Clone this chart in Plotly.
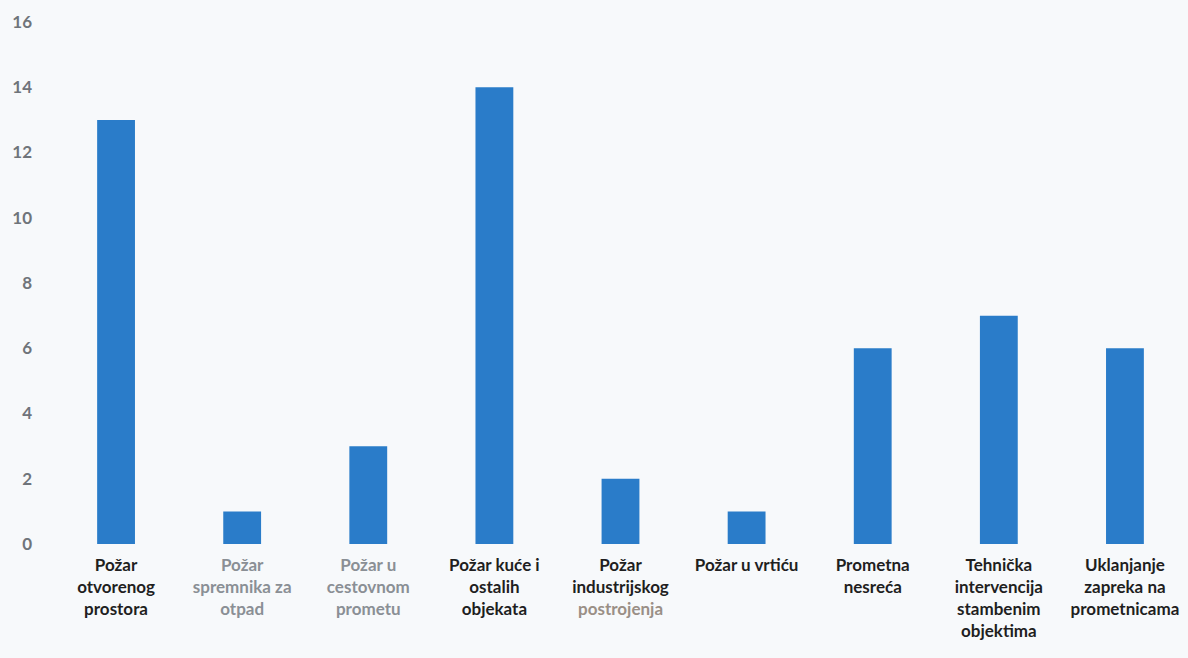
import plotly.graph_objects as go

categories = [
    "Požar<br>otvorenog<br>prostora",
    "<span style='color:#8a8f95'>Požar<br>spremnika za<br>otpad</span>",
    "<span style='color:#8a8f95'>Požar u<br>cestovnom<br>prometu</span>",
    "Požar kuće i<br>ostalih<br>objekata",
    "Požar<br>industrijskog<br><span style='color:#9a8f86'>postrojenja</span>",
    "Požar u vrtiću",
    "Prometna<br>nesreća",
    "Tehnička<br>intervencija<br>stambenim<br>objektima",
    "Uklanjanje<br>zapreka na<br>prometnicama",
]
values = [13, 1, 3, 14, 2, 1, 6, 7, 6]
y_ticks = [0, 2, 4, 6, 8, 10, 12, 14, 16]

x_idx = list(range(len(categories)))

fig = go.Figure(go.Bar(
    x=x_idx, y=values,
    marker=dict(color="#2a7cc9", line=dict(width=0)),
    width=0.30,
))

fig.update_layout(
    width=1188, height=658,
    margin=dict(l=53, r=0, t=22, b=114),
    paper_bgcolor="#f7f9fb", plot_bgcolor="#f7f9fb",
    showlegend=False,
    font=dict(family="Lato", color="#222"),
)
fig.update_xaxes(
    tickmode="array", tickvals=x_idx, ticktext=categories,
    range=[-0.5, 8.5], showgrid=False, zeroline=False, showline=False,
    tickfont=dict(size=17, color="#1f1f1f", family="Lato", weight="bold"),
    ticks="", ticklabelstandoff=9,
)
fig.update_yaxes(
    range=[0, 16], tickvals=y_ticks, showgrid=False, zeroline=False,
    showline=False, ticks="",
    tickfont=dict(size=17, color="#6f747a", family="Lato", weight="bold"),
    ticklabelstandoff=20,
)

fig.write_html("out.html", config={"displayModeBar": False},
               post_script="document.body.style.margin='0';")
